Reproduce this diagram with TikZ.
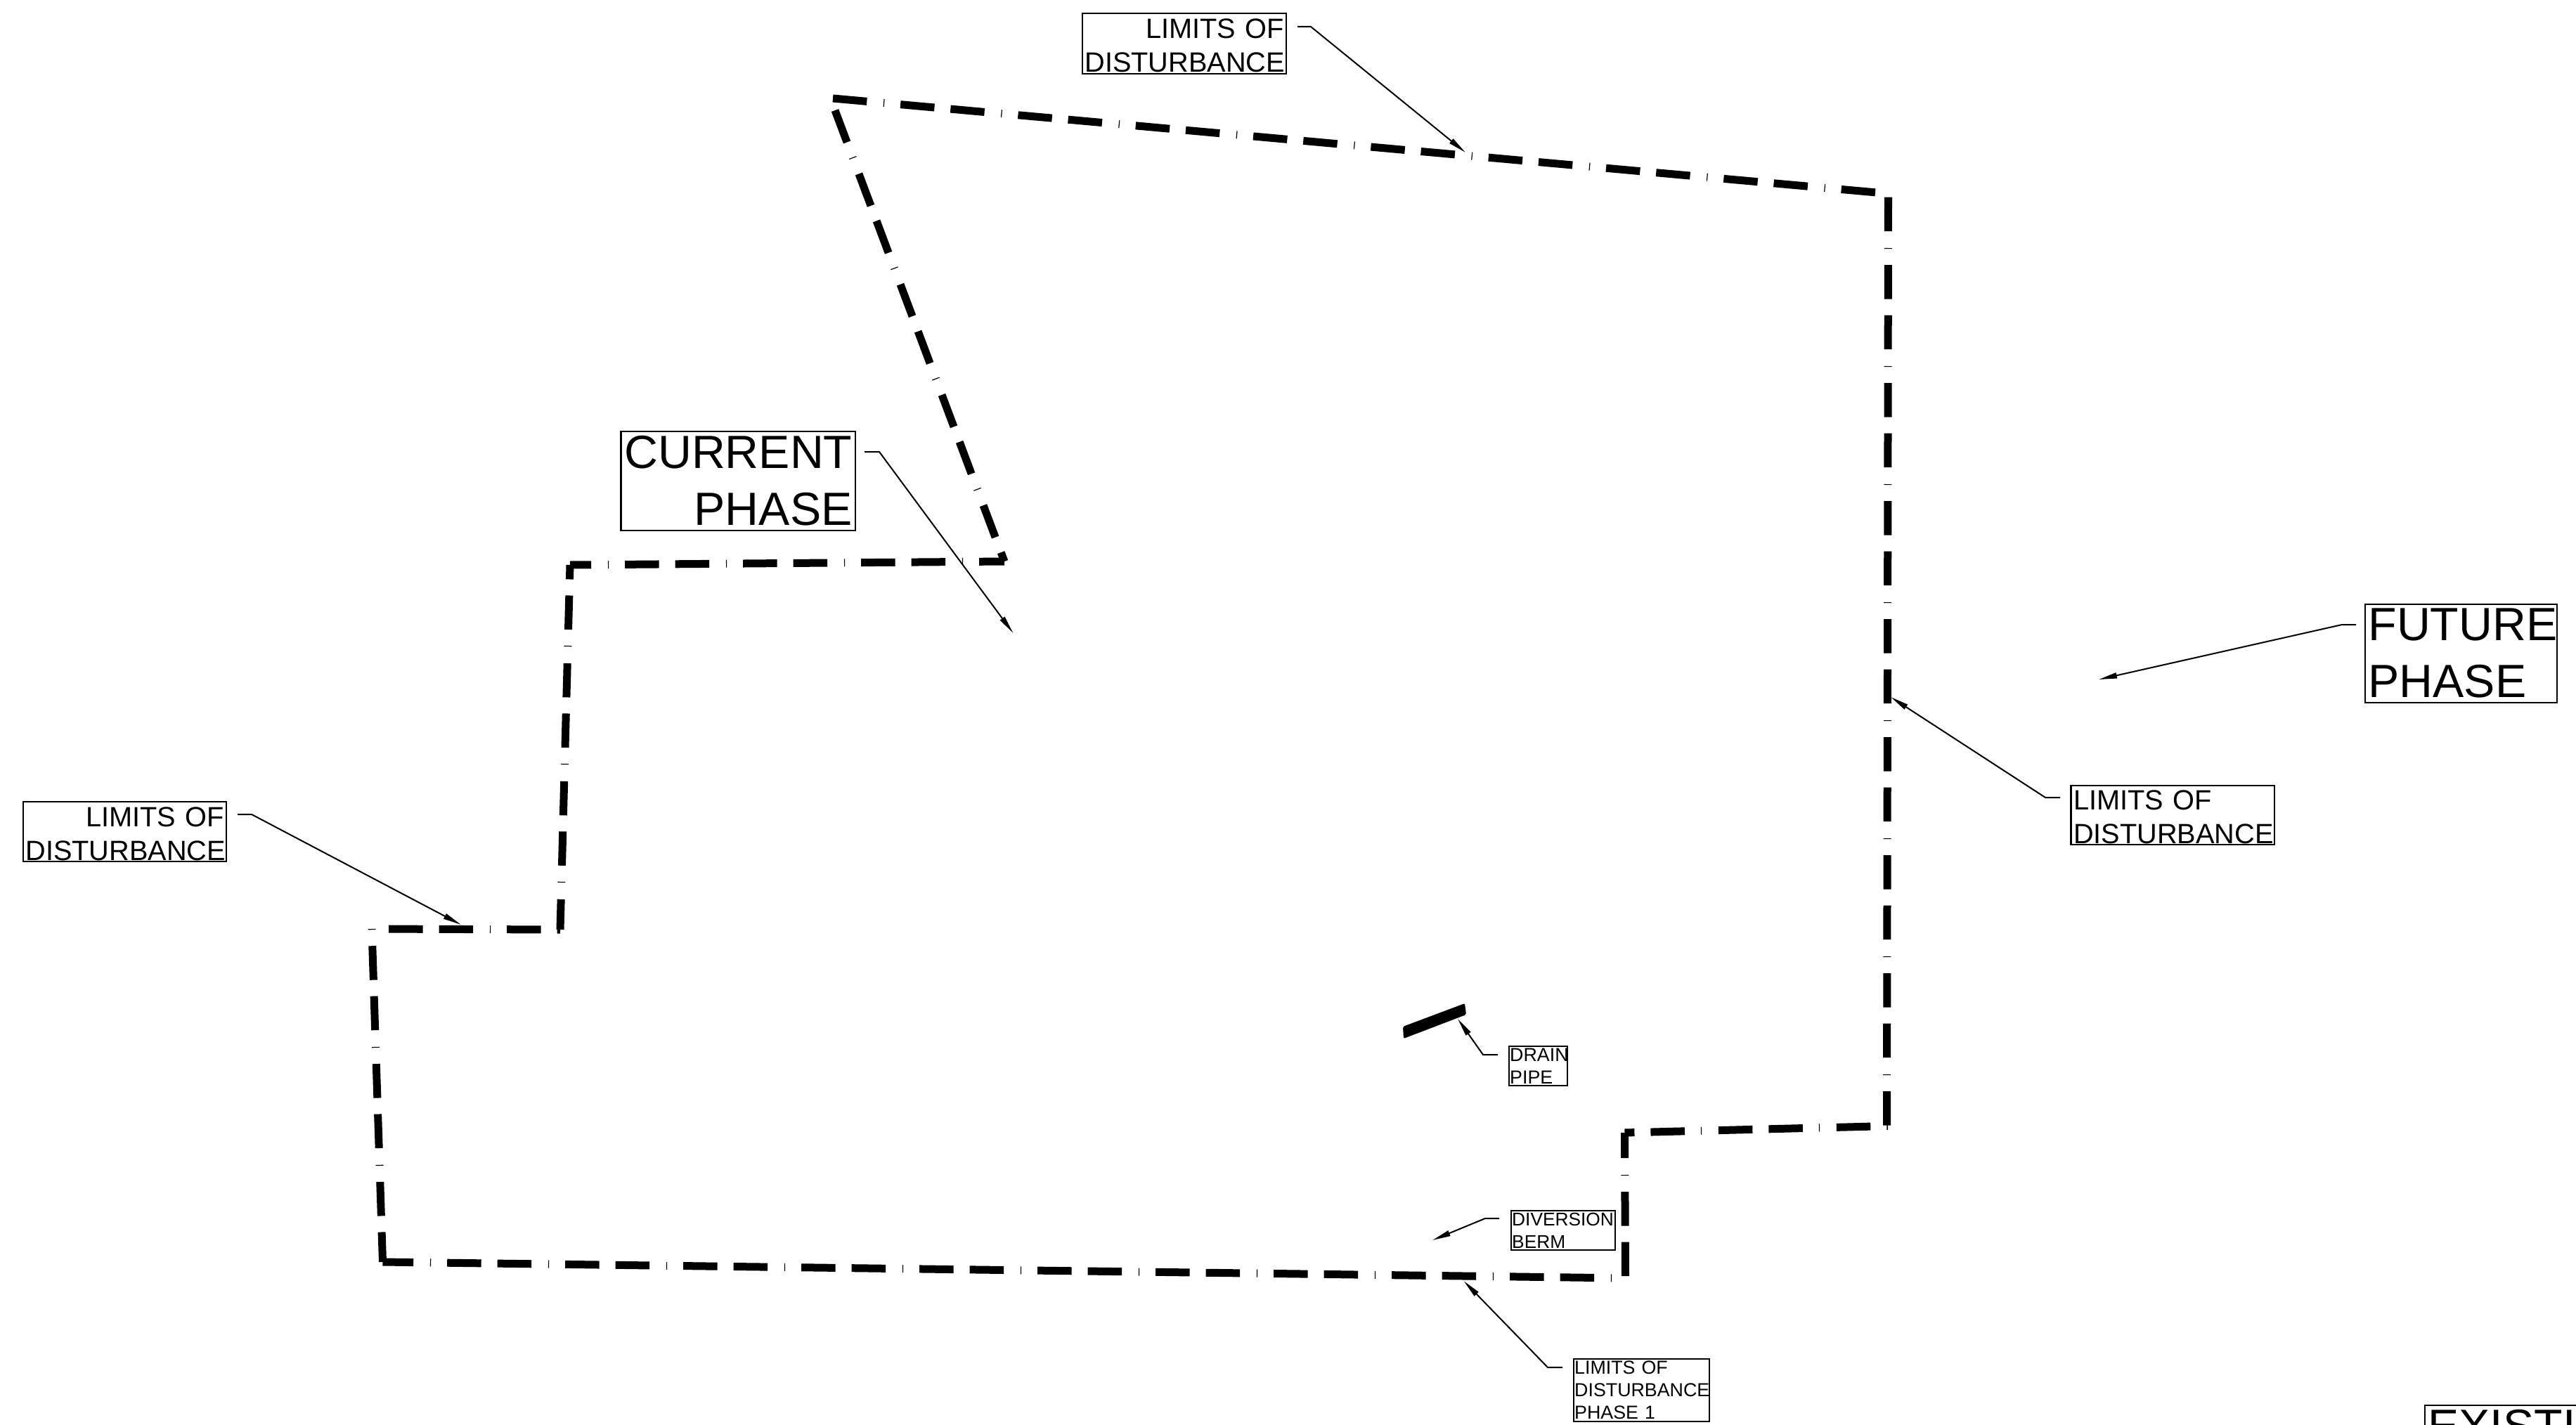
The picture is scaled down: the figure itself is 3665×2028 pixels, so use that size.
\documentclass[tikz,border=0pt]{standalone}
\usepackage{fontspec}
\setmainfont{Liberation Sans}
\usetikzlibrary{arrows.meta}
\newcommand{\lodlift}{\rule{0pt}{33.6pt}}
\tikzset{
  lod/.style={line width=11pt, line cap=butt, draw=black,
    dash pattern=on 1.2pt off 23pt on 48.5pt off 23pt on 48.5pt off 23.8pt, dash phase=#1},
  lbox/.style={draw=black, line width=2.4pt, outer sep=0pt, inner ysep=0pt, anchor=north west},
  bigt/.style={lbox, inner xsep=4.5pt, font=\fontsize{66.3}{81}\selectfont},
  midt/.style={lbox, inner xsep=3.5pt, font=\fontsize{39.7}{48}\selectfont},
  smallt/.style={lbox, inner xsep=1.2pt, font=\fontsize{26.8}{32}\selectfont},
  leader/.style={draw=black, line width=2pt, line join=miter,
    -{Triangle[length=26pt,width=8pt]}},
}
\begin{document}
\begin{tikzpicture}[x=1pt,y=-1pt]
\path[use as bounding box] (0,0) rectangle (3665,2028);
\clip (0,0) rectangle (3665,2028);
% boundary corners
\coordinate (P0) at (1185,140);
\coordinate (P1) at (2686.5,275.5);
\coordinate (P2) at (2684.5,1601.5);
\coordinate (P2b) at (2686,1602.5);
\coordinate (P3) at (2311.5,1612);
\coordinate (P4) at (2312.5,1819);
\coordinate (P5) at (544.5,1796);
\coordinate (P6) at (529,1322);
\coordinate (P6b) at (531,1322);
\coordinate (P7) at (797,1323);
\coordinate (P8) at (811,804);
\coordinate (P9) at (1429,799);
\coordinate (P10) at (1188,157);
% boundary segments
\draw[lod=95.7] (P0) -- (P1);
\draw[lod=90.5] (P1) -- (P2);
\draw[lod=71] (P2b) -- (P3);
\draw[lod=108] (P3) -- (P4);
\draw[lod=100.5] (P5) -- (P4);
\draw[lod=0] (P6) -- (P5);
\draw[lod=2] (P6b) -- (P7);
\draw[lod=101] (P7) -- (P8);
\draw[lod=114] (P8) -- (P9);
\draw[lod=59] (P9) -- (P10);
% drain pipe
\fill[black, rounded corners=2pt] (1996,1461) -- (2084,1428) -- (2086,1444) -- (1997,1478) -- cycle;
% labels
\node[midt, align=right, text width=283pt, minimum height=86pt] (ltop) at (1540,19) {\lodlift LIMITS OF\\DISTURBANCE};
\node[bigt, align=right, text width=324.5pt, minimum height=141pt] (cur) at (883.5,614) {CURRENT\\PHASE};
\node[midt, align=right, text width=282pt, minimum height=85pt] (lleft) at (33,1141) {\lodlift LIMITS OF\\DISTURBANCE};
\node[bigt, align=left, text width=264pt, minimum height=140pt] (fut) at (3365,860) {FUTURE\\PHASE};
\node[midt, align=left, text width=282.5pt, minimum height=84pt] (lright) at (2946.5,1118) {\lodlift LIMITS OF\\DISTURBANCE};
\node[smallt, align=left, text width=80.6pt, minimum height=56pt] (drain) at (2147,1489) {DRAIN\\PIPE};
\node[smallt, font=\fontsize{26.3}{32}\selectfont, align=left, text width=145.6pt, minimum height=56pt] (div) at (2150,1723) {DIVERSION\\BERM};
\node[smallt, align=left, text width=190.6pt, minimum height=89pt] (lph) at (2239,1934) {LIMITS OF\\DISTURBANCE\\PHASE 1};
\node[bigt, inner ysep=6pt, align=left, text width=400pt] (exi) at (3450,2000) {EXISTING};
% leaders
\coordinate (a1) at (1846,38);  \coordinate (b1) at (1865,38);  \coordinate (c1) at (2085,217);
\coordinate (a2) at (1230,643); \coordinate (b2) at (1251,643); \coordinate (c2) at (1441.5,901);
\coordinate (a3) at (338,1159); \coordinate (b3) at (358,1159); \coordinate (c3) at (656,1316);
\coordinate (a4) at (3352,889); \coordinate (b4) at (3332,889); \coordinate (c4) at (2986,967);
\coordinate (a5) at (2931,1135);\coordinate (b5) at (2910,1135);\coordinate (c5) at (2690,992);
\coordinate (a6) at (2131,1501);\coordinate (b6) at (2110,1501);\coordinate (c6) at (2074,1450);
\coordinate (a7) at (2133,1734);\coordinate (b7) at (2113,1734);\coordinate (c7) at (2038,1765);
\coordinate (a8) at (2223,1946);\coordinate (b8) at (2202,1946);\coordinate (c8) at (2082.5,1823);
\draw[leader] (a1) -- (b1) -- (c1);
\draw[leader] (a2) -- (b2) -- (c2);
\draw[leader] (a3) -- (b3) -- (c3);
\draw[leader] (a4) -- (b4) -- (c4);
\draw[leader] (a5) -- (b5) -- (c5);
\draw[leader] (a6) -- (b6) -- (c6);
\draw[leader] (a7) -- (b7) -- (c7);
\draw[leader] (a8) -- (b8) -- (c8);
\end{tikzpicture}
\end{document}
